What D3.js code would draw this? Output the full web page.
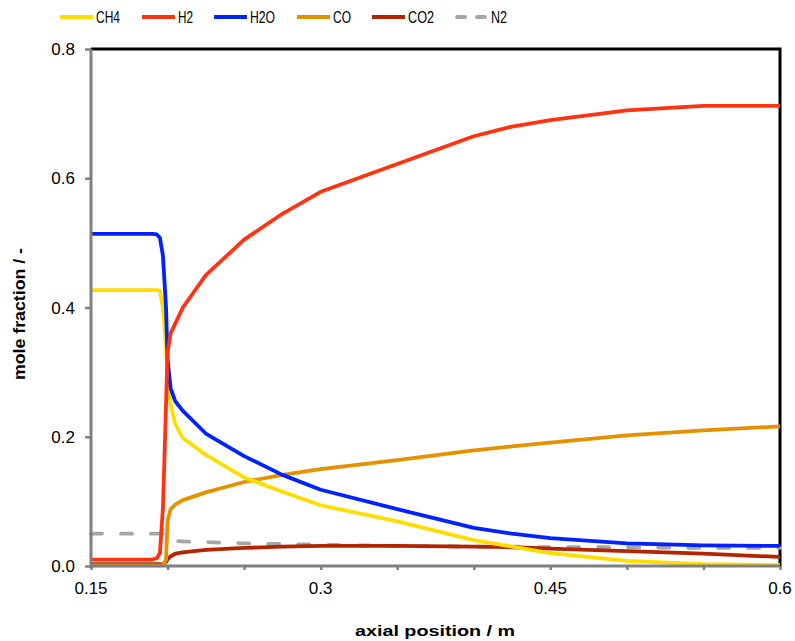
<!DOCTYPE html>
<html>
<head>
<meta charset="utf-8">
<script src="https://cdn.jsdelivr.net/npm/d3@7"></script>
<style>
  body { margin: 0; background: #fff; }
  text { font-family: Arial, "Liberation Sans", sans-serif; fill: #000; }
</style>
</head>
<body>
<div id="chart"></div>
<script>
// axial position in m
const position = [0.15, 0.17, 0.19, 0.193, 0.195, 0.197, 0.199, 0.2, 0.202, 0.205, 0.21, 0.225,
  0.25, 0.275, 0.3, 0.35, 0.4, 0.425, 0.45, 0.5, 0.55, 0.6];

const ch4 = [0.427, 0.427, 0.427, 0.427, 0.426, 0.40, 0.34, 0.29, 0.25, 0.22, 0.198, 0.172,
  0.137, 0.115, 0.094, 0.069, 0.040, 0.030, 0.020, 0.008, 0.003, 0.0015];
const h2 = [0.010, 0.010, 0.010, 0.012, 0.020, 0.090, 0.25, 0.33, 0.36, 0.375, 0.40, 0.45,
  0.505, 0.545, 0.579, 0.622, 0.665, 0.680, 0.690, 0.705, 0.712, 0.712];
const h2o = [0.514, 0.514, 0.514, 0.513, 0.508, 0.48, 0.40, 0.32, 0.275, 0.255, 0.24, 0.205,
  0.170, 0.141, 0.118, 0.088, 0.059, 0.050, 0.043, 0.035, 0.032, 0.031];
const co = [0.001, 0.001, 0.001, 0.001, 0.001, 0.001, 0.01, 0.07, 0.088, 0.095, 0.102, 0.114,
  0.130, 0.141, 0.150, 0.164, 0.179, 0.185, 0.191, 0.202, 0.210, 0.216];
const co2 = [0.003, 0.003, 0.003, 0.003, 0.003, 0.003, 0.006, 0.010, 0.015, 0.019, 0.021, 0.025,
  0.028, 0.030, 0.031, 0.031, 0.030, 0.029, 0.027, 0.023, 0.019, 0.014];
const n2 = [0.050, 0.050, 0.050, 0.050, 0.050, 0.050, 0.050, 0.047, 0.042, 0.039, 0.038, 0.037,
  0.035, 0.034, 0.033, 0.031, 0.030, 0.030, 0.029, 0.029, 0.028, 0.028];

const seriesNames = ["CH4", "H2", "H2O", "CO", "CO2", "N2"];
const seriesValues = [ch4, h2, h2o, co, co2, n2];
const seriesColors = ["#ffdd00", "#ff3311", "#0022ff", "#e69100", "#b32400", "#a6a6a6"];

const xTicks = [0.15, 0.2, 0.25, 0.3, 0.35, 0.4, 0.45, 0.5, 0.55, 0.6];
const xLabels = [0.15, 0.3, 0.45, 0.6];
const yTicks = [0, 0.2, 0.4, 0.6, 0.8];

const W = 795, H = 641;
const margin = { top: 49, right: 15, bottom: 75, left: 91 },
      width = W - margin.left - margin.right,
      height = H - margin.top - margin.bottom;

const svg = d3.select("#chart")
  .append("svg")
  .attr("width", W)
  .attr("height", H);

const g = svg.append("g")
  .attr("transform", `translate(${margin.left},${margin.top})`);

const x = d3.scaleLinear().domain([0.15, 0.6]).range([0, width]);
const y = d3.scaleLinear().domain([0, 0.8]).range([height, 0]);

// frame: top and right in black
g.append("path")
  .attr("d", `M0,0H${width}V${height}`)
  .attr("fill", "none")
  .attr("stroke", "#000")
  .attr("stroke-width", 3);

// lines
const data = seriesNames.map((name, i) => ({
  name,
  color: seriesColors[i],
  values: position.map((p, j) => ({ x: p, y: seriesValues[i][j] }))
}));

const line = d3.line().x(d => x(d.x)).y(d => y(d.y));

// draw order so that the overlaps look right
const order = ["N2", "CO2", "CO", "CH4", "H2O", "H2"];
order.forEach(name => {
  const s = data.find(d => d.name === name);
  g.append("path")
    .datum(s.values)
    .attr("fill", "none")
    .attr("stroke", s.color)
    .attr("stroke-width", 3.8)
    .attr("stroke-linejoin", "round")
    .attr("stroke-linecap", name === "N2" ? "round" : "butt")
    .attr("stroke-dasharray", name === "N2" ? "11,19" : null)
    .attr("d", line);
});

// axes (gray)
const xAxis = g.append("g")
  .attr("transform", `translate(0,${height})`)
  .call(d3.axisBottom(x).tickValues(xTicks).tickSize(4).tickFormat(""));
const yAxis = g.append("g")
  .call(d3.axisLeft(y).tickValues(yTicks).tickSize(6).tickFormat(""));

[xAxis, yAxis].forEach(a => {
  a.select(".domain").attr("stroke", "#808080").attr("stroke-width", 3);
  a.selectAll(".tick line").attr("stroke", "#808080").attr("stroke-width", 2.5);
});
xAxis.select(".domain").attr("d", `M0,0H${width}`);
yAxis.select(".domain").attr("d", `M0,${height}V0`);

// tick labels
g.selectAll(".xlab")
  .data(xLabels)
  .join("text")
  .attr("class", "xlab")
  .attr("x", d => x(d))
  .attr("y", height + 28)
  .attr("text-anchor", "middle")
  .style("font-size", "17px")
  .text(d => d);

g.selectAll(".ylab")
  .data(yTicks)
  .join("text")
  .attr("class", "ylab")
  .attr("x", -16)
  .attr("y", d => y(d) + 6)
  .attr("text-anchor", "end")
  .style("font-size", "17px")
  .text(d => d.toFixed(1));

// axis titles
svg.append("text")
  .attr("x", 435)
  .attr("y", 636)
  .attr("text-anchor", "middle")
  .style("font-size", "15px")
  .style("font-weight", "bold")
  .attr("textLength", 160)
  .attr("lengthAdjust", "spacingAndGlyphs")
  .text("axial position / m");

svg.append("text")
  .attr("transform", "translate(25,314) rotate(-90)")
  .attr("text-anchor", "middle")
  .style("font-size", "16px")
  .style("font-weight", "bold")
  .attr("textLength", 132)
  .attr("lengthAdjust", "spacingAndGlyphs")
  .text("mole fraction / -");

// legend
const legendX = [60, 142, 214, 297, 372, 455];
const legend = svg.selectAll(".legend")
  .data(data)
  .join("g")
  .attr("class", "legend")
  .attr("transform", (d, i) => `translate(${legendX[i]},17)`);

legend.append("line")
  .attr("x1", 0)
  .attr("x2", d => d.name === "N2" ? 32 : 33)
  .attr("stroke", d => d.color)
  .attr("stroke-width", 3.8)
  .attr("stroke-linecap", d => d.name === "N2" ? "round" : "butt")
  .attr("stroke-dasharray", d => d.name === "N2" ? "8,12" : null)
  .attr("transform", d => d.name === "N2" ? "translate(2,0)" : null);

legend.append("text")
  .attr("x", 36)
  .attr("y", 6)
  .style("font-size", "17px")
  .attr("textLength", d => ({ CH4: 24, H2: 15, H2O: 25, CO: 18, CO2: 26, N2: 16 })[d.name])
  .attr("lengthAdjust", "spacingAndGlyphs")
  .text(d => d.name);
</script>
</body>
</html>
